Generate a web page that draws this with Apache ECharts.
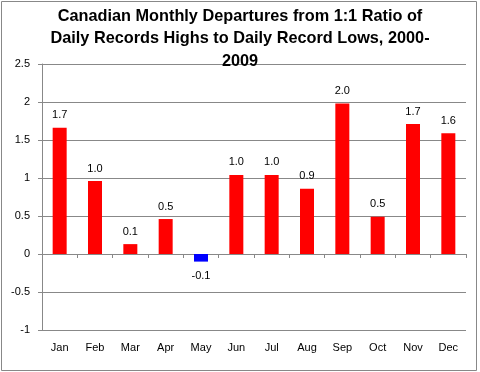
<!DOCTYPE html>
<html><head><meta charset="utf-8">
<script src="https://cdn.jsdelivr.net/npm/echarts@6/dist/echarts.min.js"></script>
<style>html,body{margin:0;padding:0;background:#fff}#c{width:480px;height:372px}</style>
</head><body><div id="c"></div>
<script>
const months = ['Jan','Feb','Mar','Apr','May','Jun','Jul','Aug','Sep','Oct','Nov','Dec'];
const values = [1.66, 0.96, 0.13, 0.46, -0.10, 1.04, 1.04, 0.86, 1.98, 0.49, 1.71, 1.59];
const yTicks = [-1, -0.5, 0, 0.5, 1, 1.5, 2, 2.5];
const titleLines = ['Canadian Monthly Departures from 1:1 Ratio of','Daily Records Highs to Daily Record Lows, 2000-','2009'];

const font = 'Liberation Sans';
const chart = echarts.init(document.getElementById('c'), null, {renderer:'canvas'});
const data = values.map(v => v < 0
  ? {value: v, itemStyle:{color:'#0000FF'}, label:{position:'bottom', distance:9}}
  : {value: v});
chart.setOption({
  animation:false,
  title:{text:titleLines.join('\n'), left:'center', top:0,
    textStyle:{fontFamily:font, fontWeight:'bold', fontSize:16.3, lineHeight:22.5, color:'#000'}},
  grid:{left:42, right:14, top:64, bottom:42},
  xAxis:[{type:'category', data:months, position:'bottom',
      axisLine:{show:false, onZero:false}, axisTick:{show:false},
      axisLabel:{margin:12, fontFamily:font, fontSize:11, color:'#000'}},
    {type:'category', data:months, position:'bottom',
      axisLine:{show:true, onZero:true, lineStyle:{color:'#888', width:1}},
      axisTick:{show:true, length:4, lineStyle:{color:'#888'}},
      axisLabel:{show:false}}],
  yAxis:{type:'value', min:yTicks[0], max:yTicks[yTicks.length-1], interval:0.5,
    axisLine:{show:true, lineStyle:{color:'#888'}},
    axisTick:{show:true, length:4, lineStyle:{color:'#888'}},
    splitLine:{show:true, lineStyle:{color:'#888', width:1}},
    axisLabel:{margin:12, fontFamily:font, fontSize:11, color:'#000',
      formatter: v => String(v)}},
  series:[{type:'bar', xAxisIndex:0, data:data, barWidth:14,
    itemStyle:{color:'#FF0000'},
    label:{show:true, position:'top', distance:7, fontFamily:font, fontSize:11, color:'#000',
      formatter: p => p.value.toFixed(1)}}],
  graphic:[{type:'rect', shape:{x:1.5, y:1.5, width:475, height:369},
    style:{fill:'none', stroke:'#888', lineWidth:1}, silent:true}]
});
</script></body></html>
